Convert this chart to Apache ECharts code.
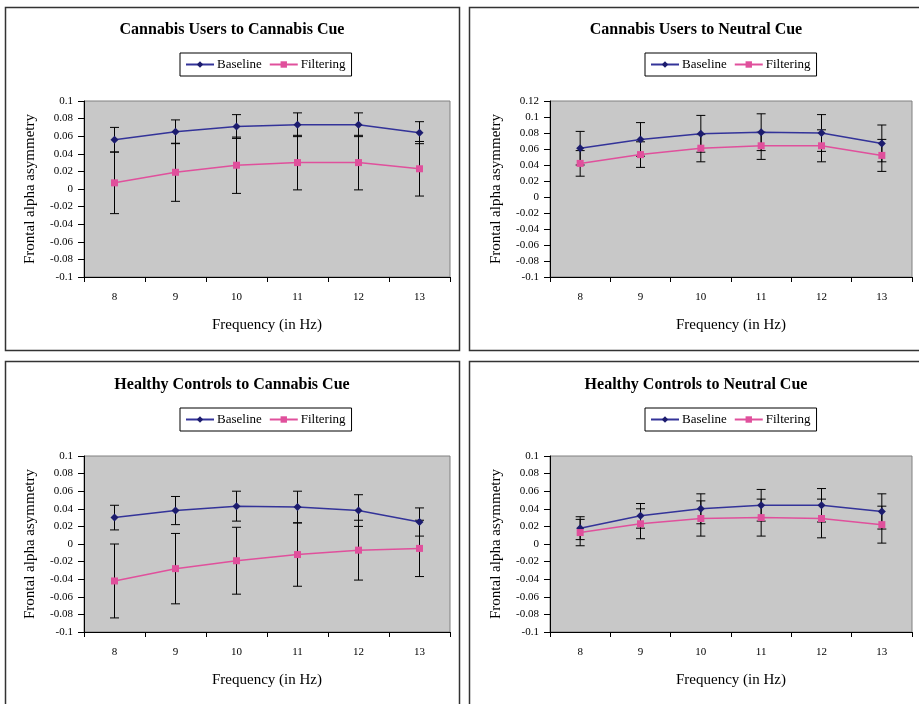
<!DOCTYPE html>
<html>
<head>
<meta charset="utf-8">
<script src="https://cdn.jsdelivr.net/npm/echarts@6/dist/echarts.min.js"></script>
<style>
html,body{margin:0;padding:0;background:#fff;}
#chart{position:absolute;left:0;top:0;width:919px;height:704px;}
</style>
</head>
<body>
<div id="chart"></div>
<script>
// ---- Data ----
const frequencies = ['8', '9', '10', '11', '12', '13'];
const seriesNames = ['Baseline', 'Filtering'];
const panelTitles = [
  'Cannabis Users to Cannabis Cue',
  'Cannabis Users to Neutral Cue',
  'Healthy Controls to Cannabis Cue',
  'Healthy Controls to Neutral Cue'
];
const yAxisName = 'Frontal alpha asymmetry';
const xAxisName = 'Frequency (in Hz)';

// Cannabis users, cannabis cue
const usersCannabisBaseline = [0.056, 0.065, 0.071, 0.073, 0.073, 0.064];
const usersCannabisBaselineErr = [0.014, 0.0135, 0.0135, 0.0135, 0.0135, 0.0125];
const usersCannabisFiltering = [0.007, 0.019, 0.027, 0.030, 0.030, 0.023];
const usersCannabisFilteringErr = [0.035, 0.033, 0.032, 0.031, 0.031, 0.031];

// Cannabis users, neutral cue
const usersNeutralBaseline = [0.061, 0.072, 0.079, 0.081, 0.080, 0.067];
const usersNeutralBaselineErr = [0.021, 0.021, 0.023, 0.023, 0.023, 0.023];
const usersNeutralFiltering = [0.042, 0.053, 0.061, 0.064, 0.064, 0.052];
const usersNeutralFilteringErr = [0.016, 0.016, 0.017, 0.017, 0.020, 0.020];

// Healthy controls, cannabis cue
const controlsCannabisBaseline = [0.030, 0.038, 0.043, 0.042, 0.038, 0.025];
const controlsCannabisBaselineErr = [0.014, 0.016, 0.017, 0.018, 0.018, 0.016];
const controlsCannabisFiltering = [-0.042, -0.028, -0.019, -0.012, -0.007, -0.005];
const controlsCannabisFilteringErr = [0.042, 0.040, 0.038, 0.036, 0.034, 0.032];

// Healthy controls, neutral cue
const controlsNeutralBaseline = [0.018, 0.032, 0.040, 0.044, 0.044, 0.037];
const controlsNeutralBaselineErr = [0.013, 0.014, 0.017, 0.018, 0.019, 0.020];
const controlsNeutralFiltering = [0.013, 0.023, 0.029, 0.030, 0.029, 0.022];
const controlsNeutralFilteringErr = [0.015, 0.017, 0.020, 0.021, 0.022, 0.021];

// y-axis ranges (tick labels)
const yRanges = [
  {min: -0.1, max: 0.1, interval: 0.02},
  {min: -0.1, max: 0.12, interval: 0.02},
  {min: -0.1, max: 0.1, interval: 0.02},
  {min: -0.1, max: 0.1, interval: 0.02}
];

const panelData = [
  {b: usersCannabisBaseline, be: usersCannabisBaselineErr, f: usersCannabisFiltering, fe: usersCannabisFilteringErr},
  {b: usersNeutralBaseline, be: usersNeutralBaselineErr, f: usersNeutralFiltering, fe: usersNeutralFilteringErr},
  {b: controlsCannabisBaseline, be: controlsCannabisBaselineErr, f: controlsCannabisFiltering, fe: controlsCannabisFilteringErr},
  {b: controlsNeutralBaseline, be: controlsNeutralBaselineErr, f: controlsNeutralFiltering, fe: controlsNeutralFilteringErr}
];

// ---- Layout ----
const FONT = '"Liberation Serif", "Times New Roman", serif';
const panels = [
  {box: [5, 7, 454, 343], grid: {left: 84, top: 101, width: 366, height: 176}, titleX: 227, titleY: 17, legendX: 180, legendY: 53},
  {box: [469, 7, 460, 343], grid: {left: 550, top: 101, width: 362, height: 176}, titleX: 691, titleY: 17, legendX: 645, legendY: 53},
  {box: [5, 361, 454, 350], grid: {left: 84, top: 456, width: 366, height: 176}, titleX: 227, titleY: 372, legendX: 180, legendY: 408},
  {box: [469, 361, 460, 350], grid: {left: 550, top: 456, width: 362, height: 176}, titleX: 691, titleY: 372, legendX: 645, legendY: 408}
];

const BASE_LINE = '#333399';
const BASE_MARK = '#1c1c6e';
const FILT_COLOR = '#e0509c';

function errorRender(params, api) {
  const x = api.value(0), lo = api.value(1), hi = api.value(2);
  const pLo = api.coord([x, lo]);
  const pHi = api.coord([x, hi]);
  const hw = 4.5;
  const st = {stroke: '#000', lineWidth: 1};
  return {
    type: 'group',
    children: [
      {type: 'line', shape: {x1: pLo[0], y1: pLo[1], x2: pHi[0], y2: pHi[1]}, style: st},
      {type: 'line', shape: {x1: pLo[0] - hw, y1: pLo[1], x2: pLo[0] + hw, y2: pLo[1]}, style: st},
      {type: 'line', shape: {x1: pHi[0] - hw, y1: pHi[1], x2: pHi[0] + hw, y2: pHi[1]}, style: st}
    ]
  };
}

function fmt(v) { return String(parseFloat(v.toFixed(2))); }

const option = {
  backgroundColor: '#fff',
  animation: false,
  title: [], legend: [], grid: [], xAxis: [], yAxis: [], series: [],
  graphic: []
};

panels.forEach((p, i) => {
  const d = panelData[i];
  option.graphic.push({
    type: 'rect', silent: true, z: -10,
    shape: {x: p.box[0] + 0.5, y: p.box[1] + 0.5, width: p.box[2], height: p.box[3]},
    style: {fill: 'none', stroke: '#333', lineWidth: 1.5}
  });
  option.title.push({
    text: panelTitles[i], left: p.titleX, top: p.titleY, textAlign: 'center',
    textStyle: {fontFamily: FONT, fontWeight: 'bold', fontSize: 16, color: '#000'}
  });
  option.legend.push({
    data: seriesNames, left: p.legendX, top: p.legendY,
    orient: 'horizontal', itemWidth: 28, itemHeight: 8, itemGap: 7,
    padding: [5, 6, 5, 5], borderColor: '#000', borderWidth: 1, backgroundColor: '#fff',
    textStyle: {fontFamily: FONT, fontSize: 13, color: '#000', padding: [0, 0, 0, -2]},
    selectedMode: false
  });
  option.grid.push(Object.assign({show: true, backgroundColor: '#c8c8c8', borderColor: '#808080', borderWidth: 1}, p.grid));
  option.xAxis.push({
    type: 'category', gridIndex: i, data: frequencies, boundaryGap: true,
    name: xAxisName, nameLocation: 'middle', nameGap: 41,
    nameTextStyle: {fontFamily: FONT, fontSize: 15, color: '#000'},
    axisLine: {show: true, onZero: false, lineStyle: {color: '#000', width: 1}},
    axisTick: {show: true, length: 5, lineStyle: {color: '#000'}},
    axisLabel: {fontFamily: FONT, fontSize: 11, color: '#000', margin: 15},
    splitLine: {show: false}
  });
  const yr = yRanges[i];
  option.yAxis.push({
    type: 'value', gridIndex: i, min: yr.min, max: yr.max, interval: yr.interval,
    name: yAxisName, nameLocation: 'middle', nameGap: 46, nameRotate: 90,
    nameTextStyle: {fontFamily: FONT, fontSize: 15, color: '#000'},
    axisLine: {show: true, lineStyle: {color: '#000', width: 1}},
    axisTick: {show: true, length: 6, inside: false, lineStyle: {color: '#000'}},
    axisLabel: {fontFamily: FONT, fontSize: 11, color: '#000', margin: 11, formatter: fmt},
    splitLine: {show: false}
  });
  const bErr = d.b.map((v, k) => [k, v - d.be[k], v + d.be[k]]);
  const fErr = d.f.map((v, k) => [k, v - d.fe[k], v + d.fe[k]]);
  option.series.push({
    type: 'custom', name: 'errB' + i, xAxisIndex: i, yAxisIndex: i,
    renderItem: errorRender, data: bErr, z: 1, silent: true
  });
  option.series.push({
    type: 'custom', name: 'errF' + i, xAxisIndex: i, yAxisIndex: i,
    renderItem: errorRender, data: fErr, z: 1, silent: true
  });
  option.series.push({
    type: 'line', name: 'Baseline', xAxisIndex: i, yAxisIndex: i, data: d.b,
    symbol: 'diamond', symbolSize: [8, 8], z: 3,
    lineStyle: {color: BASE_LINE, width: 1.5},
    itemStyle: {color: BASE_MARK, borderWidth: 0}
  });
  option.series.push({
    type: 'line', name: 'Filtering', xAxisIndex: i, yAxisIndex: i, data: d.f,
    symbol: 'rect', symbolSize: 7, z: 3,
    lineStyle: {color: FILT_COLOR, width: 1.5},
    itemStyle: {color: FILT_COLOR, borderWidth: 0}
  });
});

const chart = echarts.init(document.getElementById('chart'), null, {renderer: 'canvas'});
chart.setOption(option);
</script>
</body>
</html>
